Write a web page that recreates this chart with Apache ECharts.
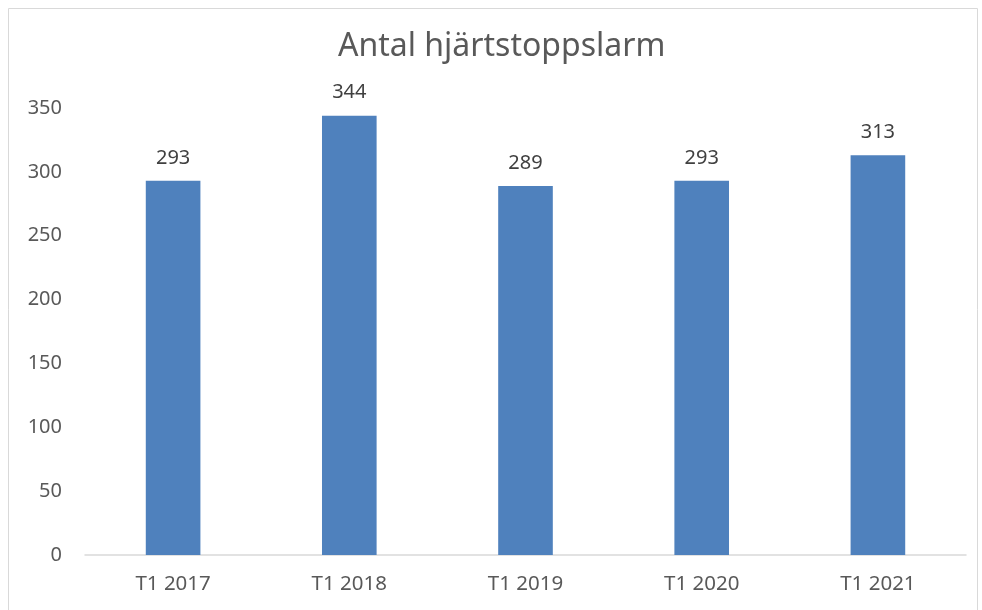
<!DOCTYPE html>
<html>
<head>
<meta charset="utf-8">
<script src="https://cdn.jsdelivr.net/npm/echarts@6/dist/echarts.min.js"></script>
<style>
  html, body { margin: 0; padding: 0; background: #fff; }
  #main { width: 982px; height: 610px; }
</style>
</head>
<body>
<div id="main"></div>
<script>
const categories = ['T1 2017', 'T1 2018', 'T1 2019', 'T1 2020', 'T1 2021'];
const values = [293, 344, 289, 293, 313];
const yTicks = [0, 50, 100, 150, 200, 250, 300, 350];

let chart = echarts.init(document.getElementById('main'));
chart.setOption({
  animation: false,
  textStyle: { fontFamily: 'Noto Sans' },
  graphic: [{
    type: 'rect',
    shape: { x: 8.5, y: 8.5, width: 969, height: 620 },
    style: { fill: 'none', stroke: '#d9d9d9', lineWidth: 1 },
    silent: true
  }],
  title: {
    text: 'Antal hjärtstoppslarm',
    left: 338,
    top: 31,
    padding: 0,
    textStyle: { fontSize: 32, fontWeight: 'normal', color: '#595959', fontFamily: 'Noto Sans' }
  },
  grid: { left: 85, right: 16, top: 108, bottom: 55, containLabel: false },
  xAxis: {
    type: 'category',
    data: categories,
    axisLine: { lineStyle: { color: '#d9d9d9', width: 1.5 } },
    axisTick: { show: false },
    axisLabel: { color: '#595959', fontSize: 20.5, margin: 19 }
  },
  yAxis: {
    type: 'value',
    min: yTicks[0],
    max: yTicks[yTicks.length - 1],
    interval: 50,
    splitLine: { show: false },
    axisLine: { show: false },
    axisTick: { show: false },
    axisLabel: { color: '#595959', fontSize: 20, margin: 23 }
  },
  series: [{
    type: 'bar',
    data: values,
    barWidth: '31%',
    itemStyle: { color: '#4f81bd' },
    label: {
      show: true,
      position: 'top',
      distance: 13,
      color: '#404040',
      fontSize: 20
    }
  }]
});
</script>
</body>
</html>
